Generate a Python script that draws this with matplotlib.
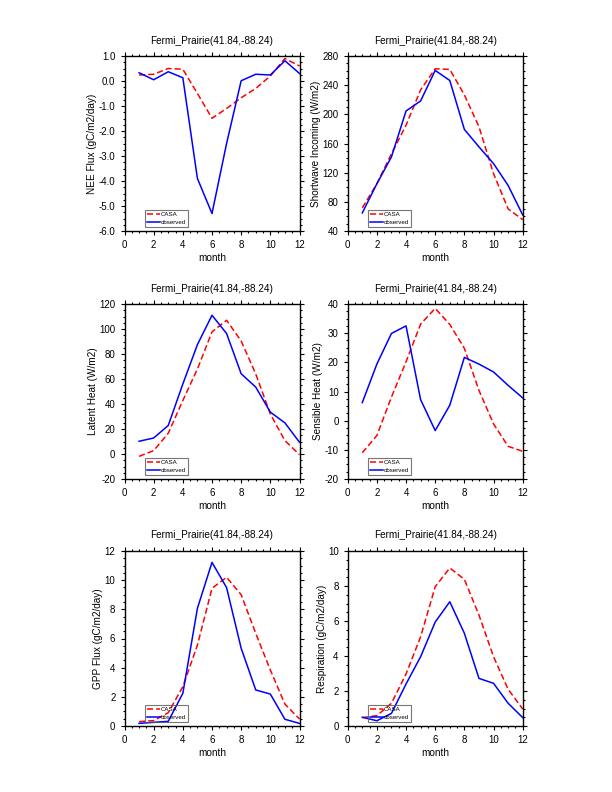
import matplotlib
matplotlib.use("Agg")
import matplotlib.pyplot as plt
from matplotlib.ticker import MultipleLocator, AutoMinorLocator, FormatStrFormatter

plt.rcParams['font.family'] = ['Liberation Sans', 'DejaVu Sans']
plt.rcParams['axes.unicode_minus'] = False

months = list(range(1, 13))
site_title = "Fermi_Prairie(41.84,-88.24)"

# NEE flux (gC/m2/day)
nee_casa = [0.24, 0.27, 0.50, 0.47, -0.50, -1.49, -1.10, -0.67, -0.30, 0.20, 0.90, 0.60]
nee_obs = [0.33, 0.05, 0.37, 0.13, -3.90, -5.30, -2.50, 0.01, 0.27, 0.24, 0.81, 0.30]

# shortwave incoming (W/m2)
swin_casa = [71.7, 104.8, 146.0, 185.0, 233.6, 262.5, 261.6, 226.7, 183.0, 118.6, 70.3, 55.6]
swin_obs = [64.8, 104.8, 141.6, 204.6, 218.4, 260.2, 246.4, 179.3, 155.4, 132.4, 102.5, 62.0]

# latent heat (W/m2)
lh_casa = [-1.9, 2.7, 16.6, 42.8, 68.0, 97.7, 107.0, 90.4, 64.0, 32.0, 10.7, -0.5]
lh_obs = [10.2, 12.8, 22.8, 56.0, 87.5, 111.0, 96.4, 64.2, 53.5, 33.5, 24.9, 9.4]

# sensible heat (W/m2)
sh_casa = [-11.0, -5.1, 8.1, 20.2, 33.1, 38.5, 33.0, 24.8, 10.4, -1.1, -8.8, -10.5]
sh_obs = [6.2, 19.4, 29.9, 32.5, 7.2, -3.4, 5.3, 21.7, 19.4, 16.7, 12.1, 7.8]

# GPP flux (gC/m2/day)
gpp_casa = [0.30, 0.37, 0.91, 2.70, 5.55, 9.44, 10.20, 9.00, 6.35, 3.84, 1.50, 0.48]
gpp_obs = [0.18, 0.25, 0.32, 2.24, 8.07, 11.22, 9.49, 5.33, 2.47, 2.19, 0.46, 0.18]

# respiration (gC/m2/day)
resp_casa = [0.48, 0.59, 1.30, 2.97, 5.10, 7.96, 9.03, 8.38, 6.34, 3.96, 2.10, 0.97]
resp_obs = [0.50, 0.30, 0.72, 2.40, 3.96, 5.94, 7.10, 5.30, 2.72, 2.44, 1.30, 0.48]

panels = [
    (nee_casa, nee_obs, "NEE Flux (gC/m2/day)", (-6.0, 1.0), 1.0, "%.1f"),
    (swin_casa, swin_obs, "Shortwave Incoming (W/m2)", (40, 280), 40, "%d"),
    (lh_casa, lh_obs, "Latent Heat (W/m2)", (-20, 120), 20, "%d"),
    (sh_casa, sh_obs, "Sensible Heat (W/m2)", (-20, 40), 10, "%d"),
    (gpp_casa, gpp_obs, "GPP Flux (gC/m2/day)", (0, 12), 2, "%d"),
    (resp_casa, resp_obs, "Respiration (gC/m2/day)", (0, 10), 2, "%d"),
]

fig = plt.figure(figsize=(6.12, 7.92), dpi=100)

W, H = 612.0, 792.0
lefts = [124.5, 347.7]
tops = [56, 304, 551]
aw, ah = 175.0, 175.0

for i, (casa, obs, ylab, ylim, step, fmt) in enumerate(panels):
    row, col = divmod(i, 2)
    ax = fig.add_axes([lefts[col] / W, 1 - (tops[row] + ah) / H, aw / W, ah / H])
    ax.plot(months, casa, color='red', lw=1.1, linestyle=(0, (4, 2)), label='CASA')
    ax.plot(months, obs, color='blue', lw=1.1, label='observed')
    ax.set_xlim(0, 12)
    ax.set_ylim(*ylim)
    ax.xaxis.set_major_locator(MultipleLocator(2))
    ax.xaxis.set_minor_locator(AutoMinorLocator(4))
    ax.yaxis.set_major_locator(MultipleLocator(step))
    ax.yaxis.set_minor_locator(AutoMinorLocator(4))
    ax.yaxis.set_major_formatter(FormatStrFormatter(fmt))
    ax.tick_params(which='both', direction='out', top=True, right=True,
                   width=0.8, labelsize=7)
    ax.tick_params(which='major', length=3)
    ax.tick_params(which='minor', length=1.6)
    for sp in ax.spines.values():
        sp.set_linewidth(1.0)
    ax.set_title(site_title, fontsize=7.2, pad=9)
    ax.set_xlabel("month", fontsize=7.2, labelpad=2)
    ax.set_ylabel(ylab, fontsize=7.2, labelpad=1)
    leg = ax.legend(loc='lower left', bbox_to_anchor=(0.117, 0.022), fontsize=4.4,
                    handlelength=2.1, handletextpad=0.05, borderpad=0.35,
                    labelspacing=0.45, borderaxespad=0, fancybox=False)
    leg.get_frame().set_facecolor('none')
    leg.get_frame().set_edgecolor('#555555')
    leg.get_frame().set_linewidth(0.8)

fig.savefig("out.png", dpi=100)
